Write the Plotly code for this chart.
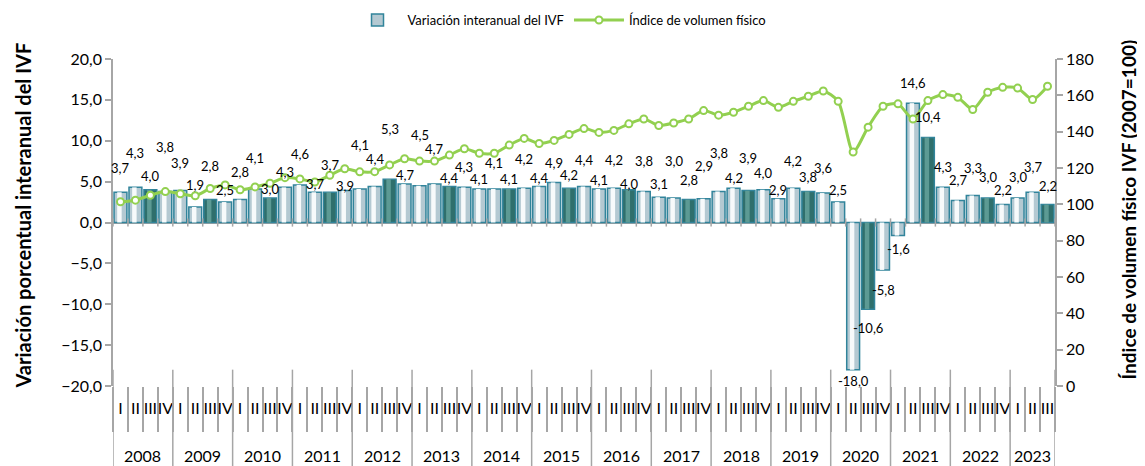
import plotly.graph_objects as go

# --- data (quarterly, 2008 Q1 .. 2023 Q3) ---
years = ['2008', '2009', '2010', '2011', '2012', '2013', '2014', '2015',
         '2016', '2017', '2018', '2019', '2020', '2021', '2022', '2023']
quarter_names = ['I', 'II', 'III', 'IV']
quarters_in_year = [4] * 15 + [3]

# variación interanual del IVF (%)
variacion = [
    3.7, 4.3, 4.0, 3.8,      # 2008
    3.9, 1.9, 2.8, 2.5,      # 2009
    2.8, 4.1, 3.0, 4.3,      # 2010
    4.6, 3.7, 3.7, 3.9,      # 2011
    4.1, 4.4, 5.3, 4.7,      # 2012
    4.5, 4.7, 4.4, 4.3,      # 2013
    4.1, 4.1, 4.1, 4.2,      # 2014
    4.4, 4.9, 4.2, 4.4,      # 2015
    4.1, 4.2, 4.0, 3.8,      # 2016
    3.1, 3.0, 2.8, 2.9,      # 2017
    3.8, 4.2, 3.9, 4.0,      # 2018
    2.9, 4.2, 3.8, 3.6,      # 2019
    2.5, -18.0, -10.6, -5.8,  # 2020
    -1.6, 14.6, 10.4, 4.3,   # 2021
    2.7, 3.3, 3.0, 2.2,      # 2022
    3.0, 3.7, 2.2,           # 2023
]

# índice de volumen físico (2007=100)
ivf = [
    101.4, 102.3, 105.0, 107.0,
    105.8, 104.7, 108.7, 110.7,
    108.0, 109.6, 111.6, 114.7,
    114.0, 112.3, 116.0, 119.6,
    117.9, 118.0, 121.7, 125.1,
    123.8, 123.8, 127.1, 130.6,
    128.1, 128.1, 132.6, 136.3,
    133.5, 135.2, 138.5, 141.7,
    139.6, 140.7, 144.3, 147.0,
    143.4, 144.8, 147.0, 151.6,
    149.1, 150.7, 154.0, 157.1,
    153.4, 156.7, 159.5, 162.4,
    156.7, 128.8, 142.5, 154.0,
    155.3, 147.0, 157.1, 160.4,
    158.9, 152.2, 161.7, 164.4,
    164.0, 157.7, 165.0,
]

# vertical offset (px) of each data label from the end of its bar
label_shift = [
    24, 34, 14, 44, 28, 22, 34, 12, 28, 31, 9, 15, 31, 8, 27, 5,
    44, 28, 50, 9, 51, 35, 9, 20, 10, 26, 10, 29, 9, 19, 13, 27,
    9, 28, 6, 30, 13, 37, 20, 33, 38, 10, 33, 17, 9, 27, 14, 25,
    12, -11, -19, -20, -13, 20, 20, 20, 20, 28, 21, 15, 21, 25, 19,
]

quarter_labels = [quarter_names[q] for n in quarters_in_year for q in range(n)]
quarter_index = [q for n in quarters_in_year for q in range(n)]
x = list(range(len(variacion)))

GREY = '#A6A6A6'
TEAL = '#31849B'
bar_fill = ['#2F6F6C' if q == 2 else '#B4C9D2' for q in quarter_index]
shine_fill = ['#5C9A94' if q == 2 else '#F7FAFB' for q in quarter_index]

fig = go.Figure()

fig.add_trace(go.Bar(
    x=x, y=variacion, name='Variación interanual del IVF',
    width=0.86, marker=dict(color=bar_fill, line=dict(color=TEAL, width=1.5)),
    yaxis='y'
))
# light stripe to mimic the cylinder shading of the original
fig.add_trace(go.Bar(
    x=x, y=variacion, width=0.3, offset=-0.22,
    marker=dict(color=shine_fill, line=dict(width=0)),
    showlegend=False, hoverinfo='skip', yaxis='y'
))
fig.add_trace(go.Scatter(
    x=x, y=ivf, name='Índice de volumen físico', yaxis='y2',
    mode='lines+markers',
    line=dict(color='#92D050', width=3, shape='spline', smoothing=0.7),
    marker=dict(symbol='circle', size=7, color='white',
                line=dict(color='#92D050', width=2))
))

# data labels
for i, v in enumerate(variacion):
    fig.add_annotation(
        x=i, y=v, xref='x', yref='y', text=f'{v:.1f}'.replace('.', ','),
        showarrow=False, yshift=label_shift[i], yanchor='middle',
        font=dict(size=13, color='#000')
    )

# year labels and year dividers
start = 0
for yr, n in zip(years, quarters_in_year):
    fig.add_annotation(
        x=start + (n - 1) / 2, y=0, xref='x', yref='paper', text=yr,
        showarrow=False, yshift=-69, yanchor='middle',
        font=dict(size=16, color='#000')
    )
    fig.add_shape(type='line', xref='x', yref='paper',
                  x0=start - 0.5, x1=start - 0.5, y0=0.05, y1=-0.25,
                  line=dict(color=GREY, width=1.5))
    start += n
fig.add_shape(type='line', xref='x', yref='paper',
              x0=start - 0.5, x1=start - 0.5, y0=0.05, y1=-0.25,
              line=dict(color=GREY, width=1.5))

# small cross ticks on the zero line
for b in range(len(variacion) + 1):
    fig.add_shape(type='line', xref='x', yref='y',
                  x0=b - 0.5, x1=b - 0.5, y0=-0.5, y1=0.5,
                  line=dict(color=GREY, width=1.5))

# axis titles
fig.add_annotation(
    x=-0.096, y=0.52, xref='paper', yref='paper', textangle=-90,
    text='<b>Variación porcentual interanual del IVF</b>', showarrow=False,
    xanchor='center', yanchor='middle', font=dict(size=20, color='#000')
)
fig.add_annotation(
    x=1.0775, y=0.54, xref='paper', yref='paper', textangle=-90,
    text='<b>Índice de volumen físico IVF (2007=100)</b>', showarrow=False,
    xanchor='center', yanchor='middle', font=dict(size=19, color='#000')
)

# the page adds an 8px body margin, so the figure is sized to fit inside it
fig.update_layout(
    width=1137, height=458,
    margin=dict(l=105, r=90, t=51, b=80, autoexpand=False),
    plot_bgcolor='white', paper_bgcolor='white',
    separators=',.', barmode='overlay', bargap=0.1,
    font=dict(family='Lato', color='#000'),
    showlegend=True,
    legend=dict(orientation='h', x=0.474, xanchor='center', y=1.119, yanchor='middle',
                font=dict(size=13), itemwidth=50, bgcolor='rgba(0,0,0,0)'),
    xaxis=dict(
        range=[-0.5, len(variacion) - 0.5], tickmode='array', tickvals=x,
        ticktext=quarter_labels, ticks='', showgrid=False, zeroline=False,
        showline=False, tickfont=dict(size=16), tickangle=0, ticklabelstandoff=11,
        automargin=False,
        minor=dict(tickmode='array', tickvals=[b - 0.5 for b in range(len(variacion) + 1)],
                   ticks='outside', ticklen=45, tickcolor=GREY, tickwidth=1.5,
                   showgrid=False),
    ),
    yaxis=dict(
        range=[-20, 20], dtick=5, tickformat='.1f', ticks='outside', ticklen=6,
        tickcolor=GREY, tickwidth=1.5, showline=True, linecolor=GREY, linewidth=1.5,
        zeroline=True, zerolinecolor=GREY, zerolinewidth=1.5, showgrid=False,
        tickfont=dict(size=16), automargin=False,
    ),
    yaxis2=dict(
        range=[0, 180], dtick=20, overlaying='y', side='right', ticks='outside',
        ticklen=6, tickcolor=GREY, tickwidth=1.5, showline=True, linecolor=GREY,
        linewidth=1.5, zeroline=False, showgrid=False, tickfont=dict(size=16),
        automargin=False,
    ),
)

fig.write_html("out.html")
